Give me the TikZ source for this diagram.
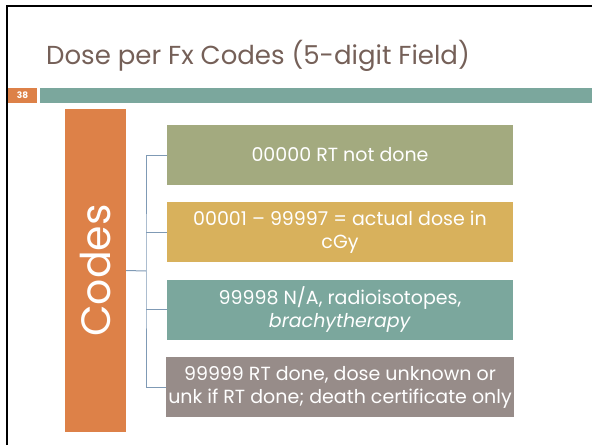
\documentclass[tikz,border=0pt]{standalone}
\usepackage{fontspec}
\setmainfont{Poppins}

\definecolor{titolo}{RGB}{117,96,88}
\definecolor{arancio}{RGB}{221,129,72}
\definecolor{verdeacqua}{RGB}{123,167,157}
\definecolor{oliva}{RGB}{163,170,127}
\definecolor{oro}{RGB}{216,177,92}
\definecolor{talpa}{RGB}{151,140,137}
\definecolor{grigioblu}{RGB}{127,154,181}

\begin{document}
\begin{tikzpicture}[x=1pt, y=-1pt,
    casella/.style={fill=#1, text=white, minimum width=346pt, minimum height=60pt,
        inner sep=2pt, align=center, font=\fontsize{19}{23}\selectfont},
    ramo/.style={draw=grigioblu, line width=1pt}]

    \useasboundingbox (0,0) rectangle (592,445);

    % Cornice della diapositiva
    \draw[line width=2pt] (7,445) -- (7,6) -- (592,6);

    % Titolo
    \node[text=titolo, font=\fontsize{26}{28}\selectfont, anchor=base] (titolo) at (258,64) {Dose per Fx Codes (5-digit Field)};

    % Barra con numero
    \node[fill=arancio, minimum width=29pt, minimum height=15pt, inner sep=0pt, text=white,
        font=\bfseries\fontsize{9}{10}\selectfont] (numero) at (22.5,95.5) {38};
    \fill[verdeacqua] (40,88) rectangle (592,103);

    % Blocco verticale
    \node[fill=arancio, rotate=90, minimum width=323pt, minimum height=61pt, inner sep=0pt,
        text=white, font=\fontsize{41}{43}\selectfont] (codes) at (95.5,270.5) {Codes};

    % Caselle dei codici
    \node[casella=oliva] (b1) at (340,155) {00000 RT not done};
    \node[casella=oro] (b2) at (340,232) {00001 -- 99997 = actual dose in\\cGy};
    \node[casella=verdeacqua] (b3) at (340,309.5) {99998 N/A, radioisotopes,\\\textit{brachytherapy}};
    \node[casella=talpa] (b4) at (340,387) {99999 RT done, dose unknown or\\unk if RT done; death certificate only};

    % Collegamenti
    \coordinate (snodo) at (146,271);
    \draw[ramo] (codes.south) -- (snodo);
    \draw[ramo] (b1.west) -| (snodo) |- (b4.west);
    \foreach \b in {b2,b3}
        \draw[ramo] (snodo |- \b.west) -- (\b.west);

\end{tikzpicture}
\end{document}
